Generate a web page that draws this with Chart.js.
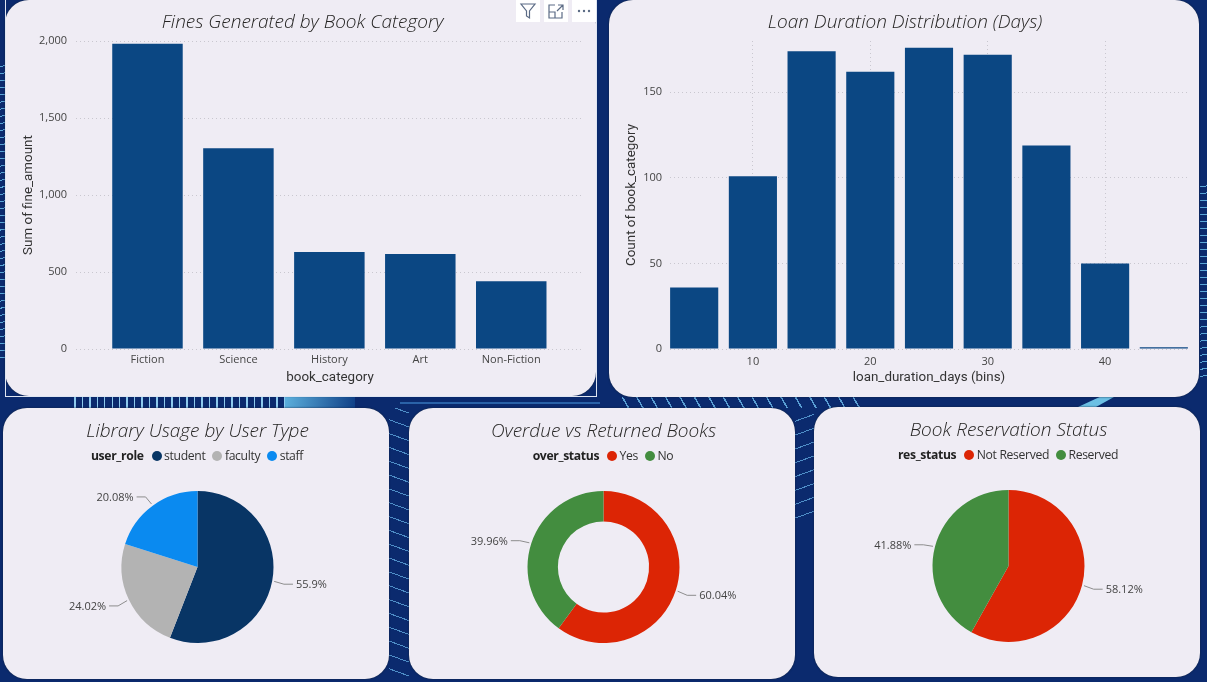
<!DOCTYPE html>
<html>
<head>
<meta charset="utf-8">
<script src="https://cdn.jsdelivr.net/npm/chart.js@4.4.1/dist/chart.umd.min.js"></script>
<style>
  html, body { margin: 0; padding: 0; }
  body {
    width: 1207px; height: 682px; overflow: hidden; position: relative;
    background-color: #0b2a6e;
  }
  .stripes { position: absolute; }
  .card {
    position: absolute; background: #efecf4; border-radius: 24px;
    box-shadow: 0 0 2px #10203a;
  }
  .card canvas { position: absolute; left: 0; top: 0; }
  .legend {
    position: absolute; left: 2px; right: 0; top: 39px; display: flex; justify-content: center;
    font: 12.2px "Open Sans", sans-serif; letter-spacing: -0.35px; color: #333; white-space: nowrap;
  }
  .legend b { margin-right: 8px; color: #222; }
  .legend span { display: flex; align-items: center; margin-right: 7px; }
  .legend span:last-child { margin-right: 0; }
  .legend i { width: 10px; height: 10px; border-radius: 50%; margin-right: 2.5px; display: block; }
  .selected { position: absolute; left: 5px; top: -2px; width: 590px; height: 397px; border: 1px solid #dfe6f2; }
  .tools { position: absolute; left: 516px; top: 0; display: flex; gap: 4px; }
  .tools div { width: 24px; height: 22px; background: #fff; }
  .tools svg { display: block; }
</style>
</head>
<body>
<div class="stripes" style="left:68px;top:397px;width:217px;height:11px;background:repeating-linear-gradient(90deg,#0b2a6e 0 6px,#8ecbee 6px 7.5px)"></div>
<div class="stripes" style="left:285px;top:397px;width:70px;height:11px;background:linear-gradient(100deg,#5cb0dd,#0f3f86)"></div>
<div class="stripes" style="left:400px;top:402px;width:200px;height:2px;background:#2a62a8"></div>
<div class="stripes" style="left:615px;top:397px;width:245px;height:11px;background:repeating-linear-gradient(60deg,#0b2a6e 0 11px,#5a9fd4 11px 12.5px)"></div>
<div class="stripes" style="left:1078px;top:397px;width:36px;height:10px;background:#6cc0e4;clip-path:polygon(60% 0,100% 0,50% 100%,0 100%)"></div>
<div class="stripes" style="left:0;top:60px;width:5px;height:300px;background:repeating-linear-gradient(170deg,#0b2a6e 0 6px,#5aa7d8 6px 7px)"></div>
<div class="stripes" style="left:1200px;top:180px;width:7px;height:200px;background:repeating-linear-gradient(175deg,#0b2a6e 0 6px,#5aa7d8 6px 7px)"></div>
<div class="stripes" style="left:389px;top:408px;width:20px;height:274px;background:repeating-linear-gradient(20deg,#0b2a6e 0 12px,#4f8fc8 12px 13px)"></div>
<div class="stripes" style="left:795px;top:408px;width:19px;height:110px;background:repeating-linear-gradient(160deg,#0b2a6e 0 12px,#4f8fc8 12px 13px)"></div>

<div class="card" id="c1" style="left:5px;top:0;width:591px;height:396px"><canvas id="finesChart" width="591" height="396"></canvas></div>
<div class="card" id="c2" style="left:609px;top:0;width:590px;height:397px"><canvas id="loanChart" width="590" height="397"></canvas></div>
<div class="card" id="c3" style="left:3px;top:408px;width:386px;height:271px"><canvas id="usageChart" width="386" height="271"></canvas><div class="legend" id="usageLegend"></div></div>
<div class="card" id="c4" style="left:409px;top:408px;width:386px;height:271px"><canvas id="overdueChart" width="386" height="271"></canvas><div class="legend" id="overdueLegend"></div></div>
<div class="card" id="c5" style="left:814px;top:407px;width:386px;height:270px"><canvas id="resChart" width="386" height="270"></canvas><div class="legend" id="resLegend"></div></div>

<div class="selected"></div>
<div class="tools">
  <div><svg width="24" height="22" fill="none" stroke="#5b6b85" stroke-width="1.2"><path d="M5 4h14l-5.5 7v7l-3-2v-5z"/></svg></div>
  <div><svg width="24" height="22" fill="none" stroke="#5b6b85" stroke-width="1.2"><path d="M11 5H5v13h13v-6M5 12h6v6M14 5h5v5M19 5l-6 6"/></svg></div>
  <div><svg width="24" height="22" fill="#5b6b85"><circle cx="7" cy="11" r="1.2"/><circle cx="12" cy="11" r="1.2"/><circle cx="17" cy="11" r="1.2"/></svg></div>
</div>

<script>
const fineCategories = ['Fiction', 'Science', 'History', 'Art', 'Non-Fiction'];
const fineAmounts = [1982, 1303, 630, 617, 440];

const loanBins = [5, 10, 15, 20, 25, 30, 35, 40, 45];
const loanCounts = [36, 101, 174, 162, 176, 172, 119, 50, 1];
const loanTicks = [10, 20, 30, 40];

const userRoles = ['student', 'faculty', 'staff'];
const userShares = [55.9, 24.02, 20.08];
const userColors = ['#083565', '#b3b3b3', '#0a8af0'];

const overdueLabels = ['Yes', 'No'];
const overdueShares = [60.04, 39.96];
const reservationLabels = ['Not Reserved', 'Reserved'];
const reservationShares = [58.12, 41.88];
const statusColors = ['#dc2505', '#438d3f'];

const BAR_COLOR = '#0b4783';
const TITLE_FONT = { family: '"Open Sans"', size: 19, style: 'italic', weight: 300, lineHeight: 1.2 };
const TICK_FONT = { family: '"Open Sans"', size: 11 };
const AXIS_FONT = { family: 'Roboto', size: 13.4 };

Chart.defaults.animation = false;
Chart.defaults.responsive = false;
Chart.defaults.plugins.tooltip.enabled = false;
Chart.defaults.plugins.legend.display = false;
Chart.defaults.color = '#444';

// fixed gutters so the plot area lands where it does in the report
function fixedBox(size) {
    return axis => {
        if (axis.isHorizontal()) axis.height = size;
        else axis.width = size;
    };
}

const dotted = { color: '#c9c7cf', lineWidth: 1, drawTicks: false };

function barTitle(text) {
    return { display: true, text: text, color: '#252423', font: TITLE_FONT, padding: { top: 11, bottom: 7.2 } };
}

function axisTitle(text, pad) {
    return { display: true, text: text, color: '#333', font: AXIS_FONT, padding: pad };
}

new Chart(document.getElementById('finesChart'), {
    type: 'bar',
    data: {
        datasets: [{
            data: fineCategories.map((c, i) => ({ x: i, y: fineAmounts[i] })),
            backgroundColor: BAR_COLOR,
            categoryPercentage: 0.775,
            barPercentage: 1
        }]
    },
    options: {
        layout: { padding: { left: 16, right: 12 } },
        plugins: { title: barTitle('Fines Generated by Book Category') },
        scales: {
            x: {
                type: 'linear', min: -0.786, max: 4.8, offset: false,
                grid: { display: false, drawTicks: false, offset: false }, border: { display: false },
                afterBuildTicks: a => { a.ticks = fineCategories.map((c, i) => ({ value: i })); },
                afterFit: fixedBox(47),
                ticks: { callback: v => fineCategories[v], font: TICK_FONT, padding: 4, maxRotation: 0, autoSkip: false },
                title: axisTitle('book_category', { top: 2, bottom: 10 })
            },
            y: {
                min: 0, max: 2000,
                border: { display: false, dash: [1, 3] },
                grid: dotted,
                afterFit: fixedBox(55),
                ticks: { stepSize: 500, font: TICK_FONT, padding: 9, callback: v => v.toLocaleString('en-US') },
                title: axisTitle('Sum of fine_amount', { top: 0, bottom: 4 })
            }
        }
    }
});

new Chart(document.getElementById('loanChart'), {
    type: 'bar',
    data: {
        datasets: [{
            data: loanBins.map((b, i) => ({ x: b, y: loanCounts[i] })),
            backgroundColor: BAR_COLOR,
            categoryPercentage: 0.82,
            barPercentage: 1
        }]
    },
    options: {
        plugins: { title: barTitle('Loan Duration Distribution (Days)') },
        layout: { padding: { left: 13, right: 11 } },
        scales: {
            x: {
                type: 'linear', min: 2.94, max: 47.06, offset: false,
                border: { display: false, dash: [1, 3] },
                grid: { ...dotted, offset: false },
                afterBuildTicks: a => { a.ticks = loanTicks.map(v => ({ value: v })); },
                afterFit: fixedBox(48),
                ticks: { font: TICK_FONT, padding: 6, maxRotation: 0 },
                title: axisTitle('loan_duration_days (bins)', { top: 2, bottom: 11 })
            },
            y: {
                min: 0, max: 180,
                border: { display: false, dash: [1, 3] },
                grid: dotted,
                afterBuildTicks: a => { a.ticks = a.ticks.filter(t => t.value % 50 === 0); },
                afterFit: fixedBox(48),
                ticks: { stepSize: 50, font: TICK_FONT, padding: 8 },
                title: axisTitle('Count of book_category', { top: 2, bottom: 4 })
            }
        }
    }
});

// percentage labels with the little elbow leader line
const leaderLabels = {
    id: 'leaderLabels',
    afterDatasetsDraw(chart) {
        const ctx = chart.ctx;
        const values = chart.data.datasets[0].data;
        chart.getDatasetMeta(0).data.forEach((arc, i) => {
            const p = arc.getProps(['x', 'y', 'startAngle', 'endAngle', 'outerRadius'], true);
            const mid = (p.startAngle + p.endAngle) / 2;
            const cos = Math.cos(mid), sin = Math.sin(mid);
            const side = cos >= 0 ? 1 : -1;
            const ex = p.x + cos * (p.outerRadius + 12);
            const ey = p.y + sin * (p.outerRadius + 12);
            ctx.save();
            ctx.strokeStyle = '#8d8d8d';
            ctx.lineWidth = 1;
            ctx.beginPath();
            ctx.moveTo(p.x + cos * (p.outerRadius + 2), p.y + sin * (p.outerRadius + 2));
            ctx.lineTo(ex, ey + 1);
            ctx.lineTo(ex + side * 9, ey + 1);
            ctx.stroke();
            ctx.fillStyle = '#444';
            ctx.font = '11px "Open Sans"';
            ctx.textBaseline = 'middle';
            ctx.textAlign = side > 0 ? 'left' : 'right';
            ctx.fillText(values[i] + '%', ex + side * 12, ey + 2);
            ctx.restore();
        });
    }
};

function pieChart(id, title, labels, values, colors, cutout, bottom) {
    return new Chart(document.getElementById(id), {
        type: 'doughnut',
        data: {
            labels: labels,
            datasets: [{
                data: values,
                backgroundColor: colors,
                borderWidth: 0,
                radius: 76
            }]
        },
        options: {
            cutout: cutout,
            layout: { padding: { left: 3, bottom: bottom } },
            plugins: {
                title: { display: true, text: title, color: '#252423', font: TITLE_FONT, padding: { top: 12, bottom: 48.2 } }
            }
        },
        plugins: [leaderLabels]
    });
}

function fillLegend(id, field, labels, colors) {
    const box = document.getElementById(id);
    const name = document.createElement('b');
    name.textContent = field;
    box.appendChild(name);
    labels.forEach((label, i) => {
        const item = document.createElement('span');
        const dot = document.createElement('i');
        dot.style.background = colors[i];
        item.appendChild(dot);
        item.appendChild(document.createTextNode(label));
        box.appendChild(item);
    });
}

pieChart('usageChart', 'Library Usage by User Type', userRoles, userShares, userColors, 0, 36);
pieChart('overdueChart', 'Overdue vs Returned Books', overdueLabels, overdueShares, statusColors, '60%', 36);
pieChart('resChart', 'Book Reservation Status', reservationLabels, reservationShares, statusColors, 0, 35);

fillLegend('usageLegend', 'user_role', userRoles, userColors);
fillLegend('overdueLegend', 'over_status', overdueLabels, statusColors);
fillLegend('resLegend', 'res_status', reservationLabels, statusColors);
</script>
</body>
</html>
